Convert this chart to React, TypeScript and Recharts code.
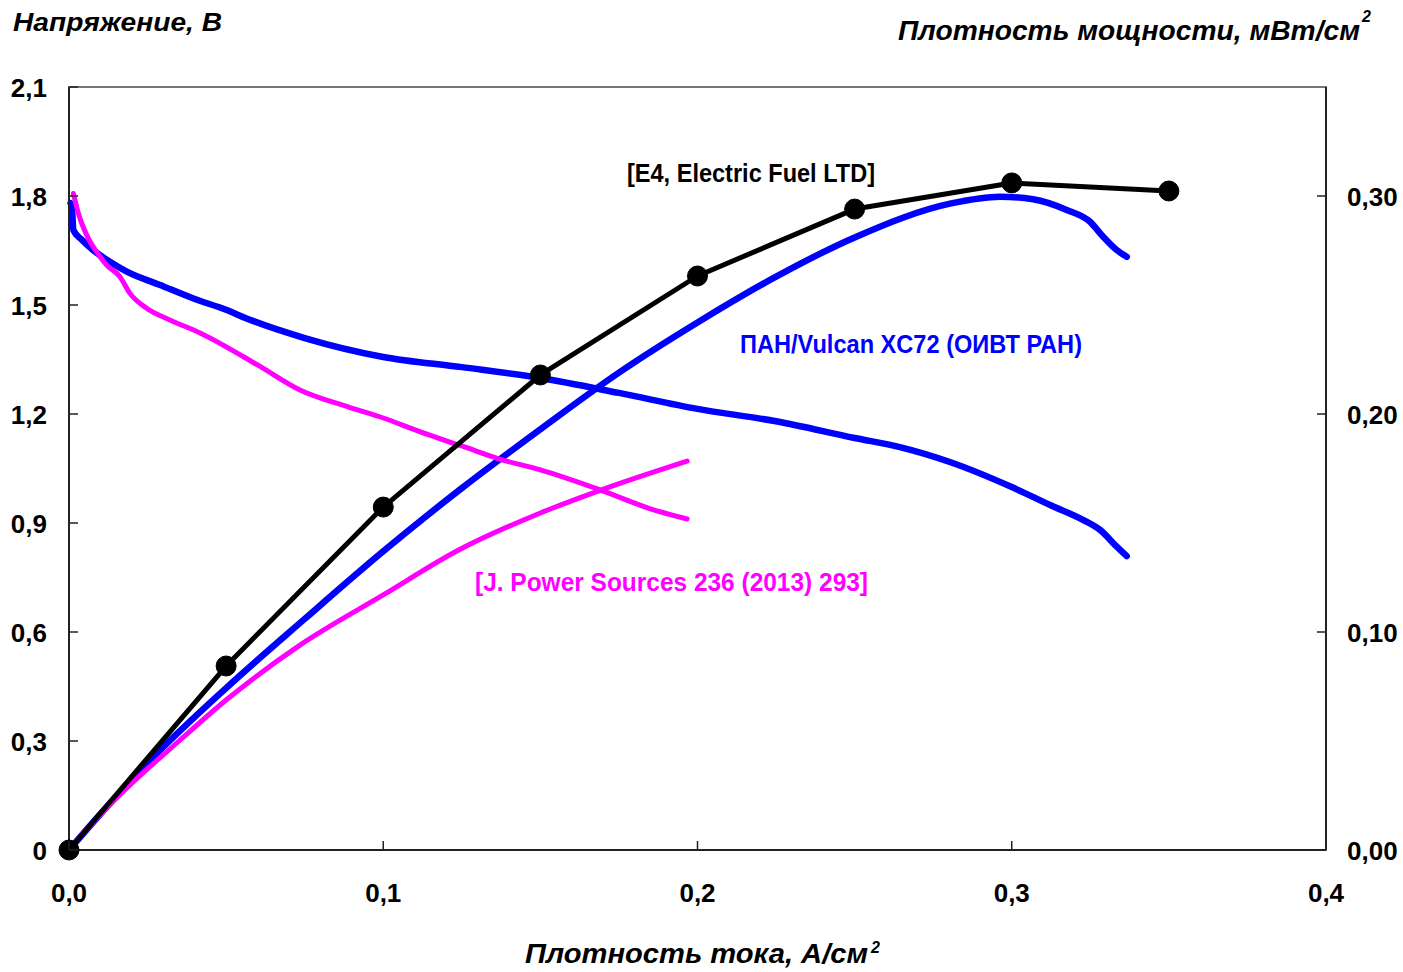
import React from 'react';
import { LineChart, Line, XAxis, YAxis, ReferenceArea } from 'recharts';

// Axis ticks and their printed labels
const currentTicks = [0, 0.1, 0.2, 0.3, 0.4];
const currentTickLabels = ['0,0', '0,1', '0,2', '0,3', '0,4'];
const voltageTicks = [0, 0.3, 0.6, 0.9, 1.2, 1.5, 1.8, 2.1];
const voltageTickLabels = ['0', '0,3', '0,6', '0,9', '1,2', '1,5', '1,8', '2,1'];
const powerTicks = [0, 0.1, 0.2, 0.3];
const powerTickLabels = ['0,00', '0,10', '0,20', '0,30'];

// ПАН/Vulcan XC72 (ОИВТ РАН): voltage, V vs current density, A/cm2
const vulcanVoltageCurrent = [0.0005, 0.0009, 0.0014, 0.004, 0.0077, 0.013, 0.0184, 0.029, 0.0396, 0.0502, 0.0565, 0.075, 0.1, 0.125, 0.15, 0.175, 0.2, 0.225, 0.25, 0.2644, 0.2803, 0.3, 0.3122, 0.3228, 0.3281, 0.3334, 0.3366];
const vulcanVoltage = [1.78, 1.771, 1.706, 1.68, 1.651, 1.619, 1.592, 1.555, 1.518, 1.486, 1.463, 1.409, 1.357, 1.329, 1.299, 1.258, 1.214, 1.18, 1.134, 1.109, 1.068, 0.999, 0.9495, 0.908, 0.881, 0.835, 0.809];

// ПАН/Vulcan XC72: power density
const vulcanPowerCurrent = [0, 0.01, 0.025, 0.05, 0.075, 0.1, 0.125, 0.15, 0.175, 0.2, 0.225, 0.25, 0.2807, 0.2963, 0.3068, 0.3175, 0.3249, 0.3291, 0.3334, 0.3366];
const vulcanPower = [0, 0.0165, 0.04, 0.0743, 0.106, 0.137, 0.166, 0.193, 0.219, 0.242, 0.263, 0.281, 0.2966, 0.2997, 0.2985, 0.2936, 0.2882, 0.2813, 0.2752, 0.2721];

// J. Power Sources 236 (2013) 293: voltage
const jpsVoltageCurrent = [0.0014, 0.003, 0.0056, 0.0099, 0.012, 0.0162, 0.0194, 0.0247, 0.0321, 0.0417, 0.06, 0.0735, 0.089, 0.1, 0.112, 0.125, 0.137, 0.15, 0.169, 0.185, 0.1967];
const jpsVoltage = [1.807, 1.752, 1.693, 1.633, 1.61, 1.578, 1.532, 1.491, 1.459, 1.423, 1.335, 1.266, 1.219, 1.189, 1.15, 1.112, 1.076, 1.046, 0.991, 0.939, 0.911];

// J. Power Sources 236 (2013) 293: power density
const jpsPowerCurrent = [0, 0.0014, 0.01, 0.02, 0.035, 0.05, 0.0735, 0.1, 0.124, 0.15, 0.169, 0.1967];
const jpsPower = [0, 0.0025, 0.0163, 0.0306, 0.05, 0.0688, 0.094, 0.117, 0.1376, 0.1546, 0.165, 0.1784];

// E4, Electric Fuel LTD: power density
const e4Current = [0, 0.05, 0.1, 0.15, 0.2, 0.25, 0.3, 0.35];
const e4Power = [0, 0.0844, 0.1573, 0.2179, 0.2633, 0.294, 0.306, 0.3023];

const zip = (xs: number[], ys: number[]) => xs.map((x, i) => ({ x, y: ys[i] }));

const vulcanVoltageData = zip(vulcanVoltageCurrent, vulcanVoltage);
const vulcanPowerData = zip(vulcanPowerCurrent, vulcanPower);
const jpsVoltageData = zip(jpsVoltageCurrent, jpsVoltage);
const jpsPowerData = zip(jpsPowerCurrent, jpsPower);
const e4Data = zip(e4Current, e4Power);

const TICK_FONT = '"Liberation Sans", Arial, sans-serif';
const TICK_LEN = 9;
const AXIS_COLOR = '#222';

const labelFor = (ticks: number[], labels: string[], v: number) => {
  const i = ticks.findIndex((t) => Math.abs(t - v) < 1e-9);
  return i >= 0 ? labels[i] : String(v);
};

const LeftTick = (props: any) => {
  const { x, y, payload } = props;
  return (
    <g>
      <line x1={x} x2={x + TICK_LEN} y1={y} y2={y} stroke={AXIS_COLOR} strokeWidth={1.5} />
      <text x={x - 22} y={y} dy={9.5} textAnchor="end" fontFamily={TICK_FONT} fontWeight="bold" fontSize={26} fill="#000">
        {labelFor(voltageTicks, voltageTickLabels, payload.value)}
      </text>
    </g>
  );
};

const RightTick = (props: any) => {
  const { x, y, payload } = props;
  return (
    <g>
      <line x1={x - TICK_LEN} x2={x} y1={y} y2={y} stroke={AXIS_COLOR} strokeWidth={1.5} />
      <text x={x + 21} y={y} dy={9.5} textAnchor="start" fontFamily={TICK_FONT} fontWeight="bold" fontSize={26} fill="#000">
        {labelFor(powerTicks, powerTickLabels, payload.value)}
      </text>
    </g>
  );
};

const BottomTick = (props: any) => {
  const { x, y, payload } = props;
  return (
    <g>
      <line x1={x} x2={x} y1={y - TICK_LEN} y2={y} stroke={AXIS_COLOR} strokeWidth={1.5} />
      <text x={x} y={y + 51.5} textAnchor="middle" fontFamily={TICK_FONT} fontWeight="bold" fontSize={26} fill="#000">
        {labelFor(currentTicks, currentTickLabels, payload.value)}
      </text>
    </g>
  );
};

const TITLE_FONT = '"Liberation Sans", Arial, sans-serif';
const NOTE_FONT = '"Liberation Sans Narrow", "Arial Narrow", "Liberation Sans", Arial, sans-serif';

export default function App() {
  return (
    <div style={{ position: 'absolute', left: 0, top: 0, width: 1403, height: 972, background: '#fff' }}>
      <LineChart width={1403} height={972} margin={{ top: 87, right: 17, bottom: 82, left: 9 }}>
        <XAxis
          type="number"
          dataKey="x"
          domain={[0, 0.4]}
          ticks={currentTicks}
          tick={<BottomTick />}
          tickSize={0}
          tickMargin={0}
          height={40}
          axisLine={{ stroke: AXIS_COLOR, strokeWidth: 2 }}
        />
        <YAxis
          yAxisId="v"
          type="number"
          domain={[0, 2.1]}
          ticks={voltageTicks}
          tick={<LeftTick />}
          tickSize={0}
          tickMargin={0}
          width={60}
          axisLine={{ stroke: AXIS_COLOR, strokeWidth: 2 }}
        />
        <YAxis
          yAxisId="p"
          orientation="right"
          type="number"
          domain={[0, 0.35]}
          ticks={powerTicks}
          tick={<RightTick />}
          tickSize={0}
          tickMargin={0}
          width={60}
          axisLine={{ stroke: AXIS_COLOR, strokeWidth: 2 }}
        />
        <ReferenceArea yAxisId="v" x1={0} x2={0.4} y1={0} y2={2.1} fill="none" fillOpacity={0} stroke="#777" strokeWidth={2} />

        <Line yAxisId="v" data={vulcanVoltageData} dataKey="y" type="monotone" stroke="#0000FF" strokeWidth={6.5} strokeLinecap="round" strokeLinejoin="round" dot={false} isAnimationActive={false} />
        <Line yAxisId="p" data={vulcanPowerData} dataKey="y" type="monotone" stroke="#0000FF" strokeWidth={6.5} strokeLinecap="round" strokeLinejoin="round" dot={false} isAnimationActive={false} />
        <Line yAxisId="v" data={jpsVoltageData} dataKey="y" type="monotone" stroke="#FF00FF" strokeWidth={5} strokeLinecap="round" strokeLinejoin="round" dot={false} isAnimationActive={false} />
        <Line yAxisId="p" data={jpsPowerData} dataKey="y" type="monotone" stroke="#FF00FF" strokeWidth={5} strokeLinecap="round" strokeLinejoin="round" dot={false} isAnimationActive={false} />
        <Line yAxisId="p" data={e4Data} dataKey="y" type="linear" stroke="#000" strokeWidth={5} strokeLinejoin="round" dot={{ r: 10, fill: '#000', stroke: '#000', strokeWidth: 1 }} isAnimationActive={false} />
      </LineChart>

      <svg width={1403} height={972} style={{ position: 'absolute', left: 0, top: 0, pointerEvents: 'none' }}>
        {/* axis titles */}
        <text x={13} y={31} fontFamily={TITLE_FONT} fontWeight="bold" fontStyle="italic" fontSize={26} textLength={209} lengthAdjust="spacingAndGlyphs" fill="#000">Напряжение, В</text>
        <text x={898} y={40} fontFamily={TITLE_FONT} fontWeight="bold" fontStyle="italic" fontSize={28} textLength={462} lengthAdjust="spacingAndGlyphs" fill="#000">Плотность мощности, мВт/см</text>
        <text x={1362} y={22} fontFamily={TITLE_FONT} fontWeight="bold" fontStyle="italic" fontSize={16} fill="#000">2</text>
        <text x={525} y={963} fontFamily={TITLE_FONT} fontWeight="bold" fontStyle="italic" fontSize={27} textLength={343} lengthAdjust="spacingAndGlyphs" fill="#000">Плотность тока, А/см</text>
        <text x={871} y={953} fontFamily={TITLE_FONT} fontWeight="bold" fontStyle="italic" fontSize={16} fill="#000">2</text>

        {/* series notes */}
        <text x={627} y={182} fontFamily={NOTE_FONT} fontWeight="bold" fontSize={26} textLength={248} lengthAdjust="spacingAndGlyphs" fill="#000">[E4, Electric Fuel LTD]</text>
        <text x={740} y={353} fontFamily={NOTE_FONT} fontWeight="bold" fontSize={26} textLength={342} lengthAdjust="spacingAndGlyphs" fill="#0000FF">ПАН/Vulcan XC72 (ОИВТ РАН)</text>
        <text x={475} y={591} fontFamily={NOTE_FONT} fontWeight="bold" fontSize={26} textLength={393} lengthAdjust="spacingAndGlyphs" fill="#FF00FF">[J. Power Sources 236 (2013) 293]</text>
      </svg>
    </div>
  );
}
